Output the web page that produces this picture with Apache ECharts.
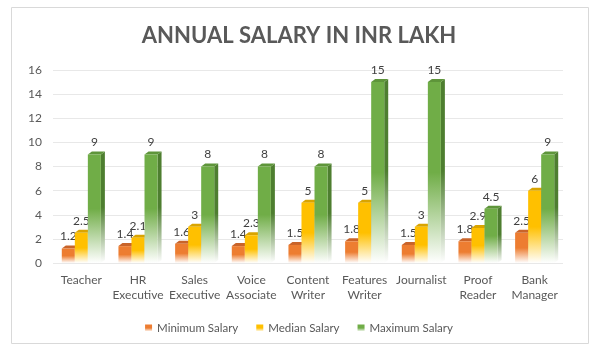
<!DOCTYPE html>
<html>
<head>
<meta charset="utf-8">
<script src="https://cdn.jsdelivr.net/npm/echarts@6/dist/echarts.min.js"></script>
<style>
html, body { margin: 0; padding: 0; background: #fff; }
#main { width: 598px; height: 353px; }
</style>
</head>
<body>
<div id="main"></div>
<script>
var categories = ['Teacher', 'HR\nExecutive', 'Sales\nExecutive', 'Voice\nAssociate', 'Content\nWriter', 'Features\nWriter', 'Journalist', 'Proof\nReader', 'Bank\nManager'];
var minSalary = [1.2, 1.4, 1.6, 1.4, 1.5, 1.8, 1.5, 1.8, 2.5];
var medianSalary = [2.5, 2.1, 3, 2.3, 5, 5, 3, 2.9, 6];
var maxSalary = [9, 9, 8, 8, 8, 15, 15, 4.5, 9];
var seriesNames = ['Minimum Salary', 'Median Salary', 'Maximum Salary'];

// front, side, top colours per series
var palette = [
	{ front: '#ED7D31', side: '#B35A1E', top: '#C9642A' },
	{ front: '#FFC000', side: '#C09000', top: '#D9A400' },
	{ front: '#70AD47', side: '#4E7E30', top: '#5E953A' }
];

function fade(c, stop) {
	return new echarts.graphic.LinearGradient(0, 0, 0, 1, [
		{ offset: 0, color: c },
		{ offset: stop, color: c },
		{ offset: 1, color: '#ffffff' }
	]);
}

function makeRender(k) {
	return function (params, api) {
		var idx = api.value(0), val = api.value(1);
		var base = api.coord([idx, 0]);
		var top = api.coord([idx, val]);
		var band = api.size([1, 0])[0];
		var w = band * 0.23;
		var x0 = base[0] - 1.5 * w + k * w;
		var dx = 4, dy = 3;
		var p = palette[k];
		return {
			type: 'group',
			children: [
				{
					type: 'polygon',
					shape: { points: [[x0 + w, top[1]], [x0 + w + dx, top[1] - dy], [x0 + w + dx, base[1] - dy], [x0 + w, base[1]]] },
					style: { fill: fade(p.side, 0.5) }
				},
				{
					type: 'polygon',
					shape: { points: [[x0, top[1]], [x0 + dx, top[1] - dy], [x0 + w + dx, top[1] - dy], [x0 + w, top[1]]] },
					style: { fill: p.top }
				},
				{
					type: 'rect',
					shape: { x: x0, y: top[1], width: w, height: base[1] - top[1] },
					style: { fill: fade(p.front, 0.5) }
				},
				{
					type: 'text',
					x: x0 + w / 2,
					y: top[1] - 6,
					style: {
						text: String(val),
						fill: '#404040',
						font: '12px Lato',
						align: 'center',
						verticalAlign: 'bottom'
					}
				}
			]
		};
	};
}

var allData = [minSalary, medianSalary, maxSalary];
var series = allData.map(function (arr, k) {
	return {
		name: seriesNames[k],
		type: 'custom',
		renderItem: makeRender(k),
		encode: { x: 0, y: 1 },
		itemStyle: { color: fade(palette[k].front, 0.5) },
		data: arr.map(function (v, i) { return [i, v]; })
	};
});

var myChart = echarts.init(document.getElementById('main'));
var option = {
	animation: false,
	title: {
		text: 'ANNUAL SALARY IN INR LAKH',
		left: 'center',
		top: 20,
		textStyle: { color: '#595959', fontSize: 22, fontWeight: 'bold', fontFamily: 'Lato' }
	},
	graphic: [{
		type: 'rect',
		z: -10,
		shape: { x: 11.5, y: 7.5, width: 577, height: 336 },
		style: { fill: 'none', stroke: '#D9D9D9', lineWidth: 1 }
	}],
	legend: {
		top: 317,
		left: 'center',
		icon: 'rect',
		itemWidth: 7,
		itemHeight: 7,
		itemGap: 18,
		textStyle: { color: '#595959', fontSize: 11.5, fontFamily: 'Lato' },
		data: seriesNames
	},
	grid: { left: 53, right: 35, top: 70, bottom: 90 },
	xAxis: {
		type: 'category',
		data: categories,
		axisTick: { show: false },
		axisLine: { show: false },
		axisLabel: { color: '#595959', fontSize: 12, fontFamily: 'Lato', interval: 0, lineHeight: 15, margin: 10 }
	},
	yAxis: {
		type: 'value',
		min: 0,
		max: 16,
		interval: 2,
		axisLabel: { color: '#595959', fontSize: 12, fontFamily: 'Lato', margin: 11 },
		splitLine: { lineStyle: { color: '#E8E8E8' } }
	},
	series: series
};
myChart.setOption(option);
</script>
</body>
</html>
